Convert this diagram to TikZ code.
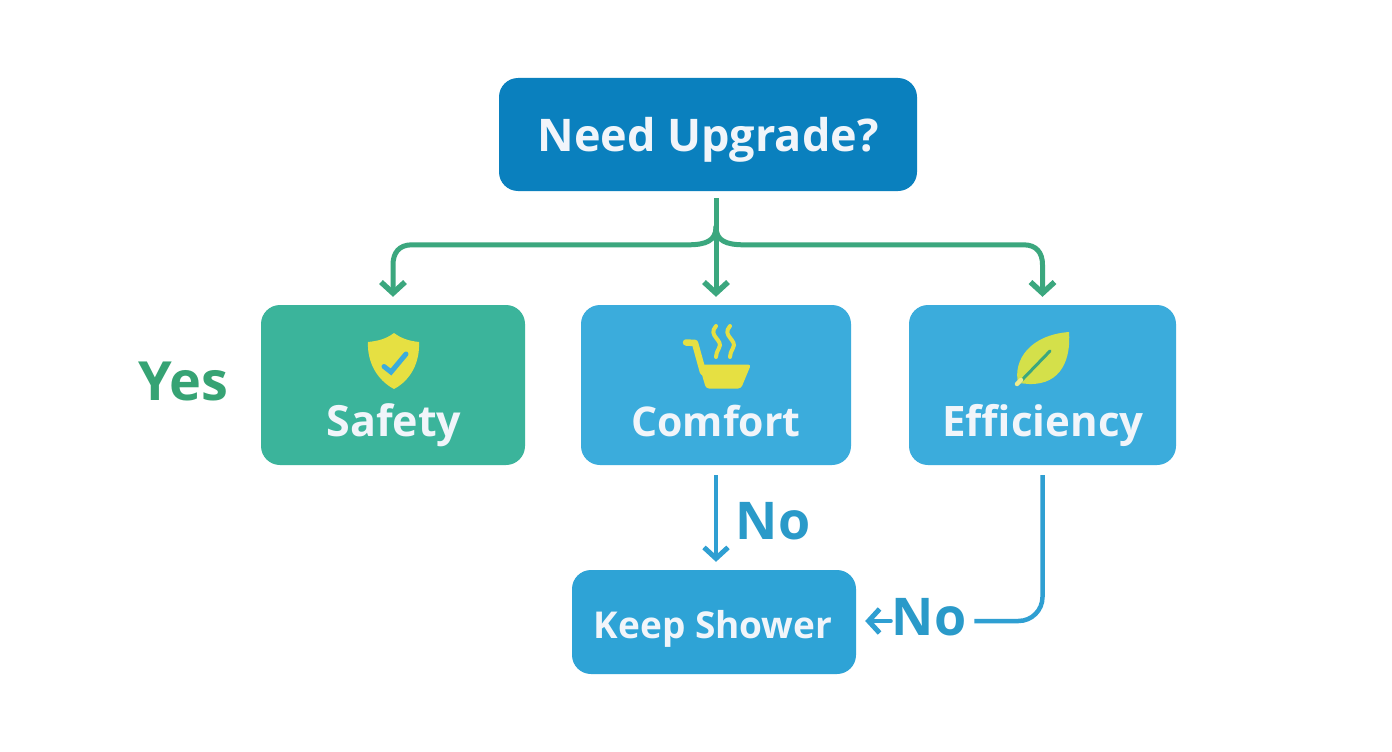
\documentclass[tikz,border=0pt]{standalone}
\usepackage{fontspec}
\setmainfont{Open Sans}
\usetikzlibrary{arrows.meta}
\definecolor{topblue}{HTML}{0A80BE}
\definecolor{safegreen}{HTML}{3BB49B}
\definecolor{skyblue}{HTML}{3BACDC}
\definecolor{keepblue}{HTML}{2EA3D6}
\definecolor{linegreen}{HTML}{3BA77E}
\definecolor{yesgreen}{HTML}{36A374}
\definecolor{lineblue}{HTML}{2F9FD2}
\definecolor{noblue}{HTML}{2A9AC9}
\definecolor{iconyellow}{HTML}{E6E042}
\definecolor{leafyellow}{HTML}{D4E04A}
\definecolor{whitetext}{HTML}{F1F5FA}
\tikzset{
  box/.style={rounded corners=19pt,inner sep=0pt,draw=none},
  boxtext/.style={text=whitetext,font=\bfseries\fontsize{42}{42}\selectfont,inner sep=0pt,anchor=base},
  branchgreen/.style={draw=linegreen,line width=5pt},
  arrowgreen/.style={branchgreen,-{Straight Barb[length=11pt,width=24pt,line width=5.5pt]},line cap=round},
  flowblue/.style={draw=lineblue,line width=4.5pt},
  arrowblue/.style={flowblue,-{Straight Barb[length=11pt,width=24pt,line width=5pt]},line cap=round},
  decision/.style={font=\bfseries\fontsize{52}{52}\selectfont,inner sep=0pt,anchor=base}
}
\begin{document}
\begin{tikzpicture}[x=1pt,y=-1pt]
\useasboundingbox (0,0) rectangle (1392,752);
\fill[white] (0,0) rectangle (1392,752);
% boxes
\node[box,fill=topblue,minimum width=418pt,minimum height=113pt] (top) at (708,134.5) {};
\node[box,fill=safegreen,minimum width=264pt,minimum height=160pt] (safety) at (393,385) {};
\node[box,fill=skyblue,minimum width=270pt,minimum height=160pt] (comfort) at (716,385) {};
\node[box,fill=skyblue,minimum width=267pt,minimum height=160pt] (efficiency) at (1042.5,385) {};
\node[box,fill=keepblue,minimum width=284pt,minimum height=104pt] (keep) at (714,622) {};
% box texts
\node[boxtext,font=\bfseries\fontsize{45}{45}\selectfont] (toptext) at (708,151) {Need Upgrade?};
\node[boxtext,font=\bfseries\fontsize{43}{43}\selectfont] (safetytext) at (394,436) {Safety};
\node[boxtext,font=\bfseries\fontsize{41}{41}\selectfont] (comforttext) at (716,436) {Comfort};
\node[boxtext] (efficiencytext) at (1043,436) {Efficiency};
\node[boxtext,font=\bfseries\fontsize{37}{37}\selectfont] (keeptext) at (713,638) {Keep Shower};
% decisions
\node[decision,text=yesgreen,font=\bfseries\fontsize{54}{54}\selectfont] (yes) at (183,400) {Yes};
\node[decision,text=noblue] (nocomfort) at (773,539) {No};
\node[decision,text=noblue] (noeff) at (929,635) {No};
% green connectors
\draw[arrowgreen,line cap=butt,shorten <=7pt,shorten >=8pt] (top.south -| comfort.north) -- (comfort.north);
\draw[arrowgreen,shorten >=8pt] ([yshift=78pt]comfort.north) .. controls ([yshift=64pt]comfort.north) and ([xshift=-10pt,yshift=60pt]comfort.north) .. ([xshift=-28pt,yshift=60pt]comfort.north)
  -- ([xshift=19pt,yshift=60pt]safety.north) .. controls ([xshift=6pt,yshift=60pt]safety.north) and ([yshift=52pt]safety.north) .. ([yshift=40pt]safety.north) -- (safety.north);
\draw[arrowgreen,shorten >=8pt] ([yshift=78pt]comfort.north) .. controls ([yshift=64pt]comfort.north) and ([xshift=10pt,yshift=60pt]comfort.north) .. ([xshift=28pt,yshift=60pt]comfort.north)
  -- ([xshift=-19pt,yshift=60pt]efficiency.north) .. controls ([xshift=-6pt,yshift=60pt]efficiency.north) and ([yshift=52pt]efficiency.north) .. ([yshift=40pt]efficiency.north) -- (efficiency.north);
% blue connectors
\draw[arrowblue,line cap=butt,shorten <=10pt,shorten >=8pt] (comfort.south) -- (comfort.south |- keep.north);
\draw[flowblue,rounded corners=24pt,shorten <=10pt,shorten >=8pt] (efficiency.south) |- (noeff.east |- 0,621);
\coordinate (noeffleft) at (noeff.west |- 0,621);
\draw[arrowblue,shorten <=1pt,shorten >=9pt] (noeffleft) -- (keep.east |- noeffleft);
% shield icon
\fill[iconyellow] (394,333) .. controls (402,339) and (410,341) .. (419,342) .. controls (420,362) and (411,380) .. (394,389)
  .. controls (377,380) and (367,362) .. (368,342) .. controls (378,341) and (386,339) .. (394,333) -- cycle;
\draw[skyblue,line width=5pt,line cap=round,line join=miter] (384,366.5) -- (391,372) -- (406,354);
% tub icon
\draw[iconyellow,line width=6.5pt,line cap=round,line join=round] (686,342.5) -- (695,343) -- (703,372);
\fill[iconyellow,rounded corners=3pt] (699,364.5) -- (751,364.5) -- (741,388.5) -- (706,388.5) -- cycle;
\foreach \sx in {717,731}{
  \draw[iconyellow,line width=4pt,line cap=round] (\sx-1,326) .. controls (\sx-10,336) and (\sx+7,340) .. (\sx+2,348) .. controls (\sx,352) and (\sx-1,354) .. (\sx-1,357);
}
% leaf icon
\fill[leafyellow] (1069,332) .. controls (1071,358) and (1062,385) .. (1029,384) -- (1018,383) .. controls (1013,360) and (1030,335) .. (1069,332) -- cycle;
\draw[linegreen,line width=3pt,line cap=round] (1020,382) -- (1050,351);
\draw[iconyellow!60!white,line width=4.5pt,line cap=round] (1017,384) -- (1021,380);
\end{tikzpicture}
\end{document}
